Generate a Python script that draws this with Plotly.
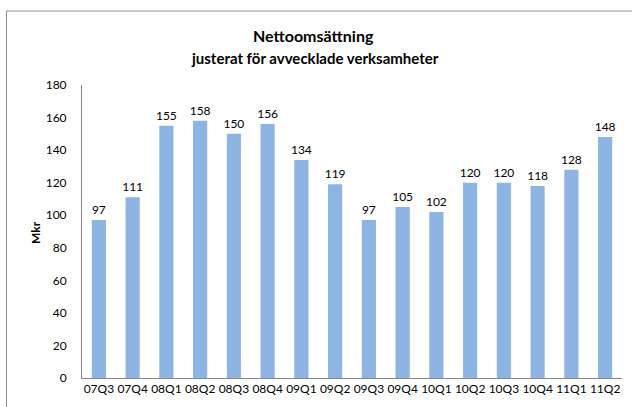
import plotly.graph_objects as go

quarters = ["07Q3", "07Q4", "08Q1", "08Q2", "08Q3", "08Q4", "09Q1", "09Q2",
            "09Q3", "09Q4", "10Q1", "10Q2", "10Q3", "10Q4", "11Q1", "11Q2"]
values = [97, 111, 155, 158, 150, 156, 134, 119, 97, 105, 102, 120, 120, 118, 128, 148]
y_ticks = [0, 20, 40, 60, 80, 100, 120, 140, 160, 180]

FONT = "Lato, 'Open Sans', sans-serif"

fig = go.Figure(go.Bar(
    x=quarters, y=values,
    marker=dict(color="#8EB4E3", line=dict(width=0)),
    text=[str(v) for v in values], textposition="outside",
    textfont=dict(family=FONT, size=12, color="#000000"),
    constraintext="none",
    cliponaxis=False,
))

fig.update_layout(
    width=632, height=407,
    margin=dict(l=82, r=10, t=85, b=29),
    paper_bgcolor="white", plot_bgcolor="white",
    bargap=0.58,
    showlegend=False,
    font=dict(family=FONT, size=12, color="#000000"),
    annotations=[
        dict(text="<b>Nettoomsättning</b>", xref="paper", yref="paper",
             x=(313 - 82) / 540, y=(378 - 36) / 293, xanchor="center", yanchor="middle",
             showarrow=False, font=dict(family=FONT, size=16, color="#000000")),
        dict(text="<b>justerat för avvecklade verksamheter</b>", xref="paper", yref="paper",
             x=(315 - 82) / 540, y=(378 - 58) / 293, xanchor="center", yanchor="middle",
             showarrow=False, font=dict(family=FONT, size=15, color="#000000")),
        dict(text="<b>Mkr</b>", xref="paper", yref="paper",
             x=(35 - 82) / 540, y=(378 - 233) / 293, xanchor="center", yanchor="middle",
             textangle=-90, showarrow=False, font=dict(family=FONT, size=12, color="#000000")),
    ],
    shapes=[
        dict(type="rect", xref="paper", yref="paper",
             x0=(6.5 - 82) / 540, x1=1.2, y0=-0.3, y1=(378 - 11) / 293,
             line=dict(color="#8C8C8C", width=1), fillcolor="rgba(0,0,0,0)", layer="below"),
    ],
)

fig.update_xaxes(
    showline=True, linecolor="#868686", linewidth=1,
    ticks="", showgrid=False,
    tickfont=dict(family=FONT, size=12, color="#000000"),
)
fig.update_yaxes(
    range=[0, 180], tickvals=y_ticks,
    showline=True, linecolor="#868686", linewidth=1,
    ticks="", showgrid=False, zeroline=False,
    ticklabelstandoff=12,
    tickfont=dict(family=FONT, size=12, color="#000000"),
)

fig.write_html("out.html", config={"displayModeBar": False},
               post_script="document.body.style.margin='0';document.body.style.overflow='hidden';")
